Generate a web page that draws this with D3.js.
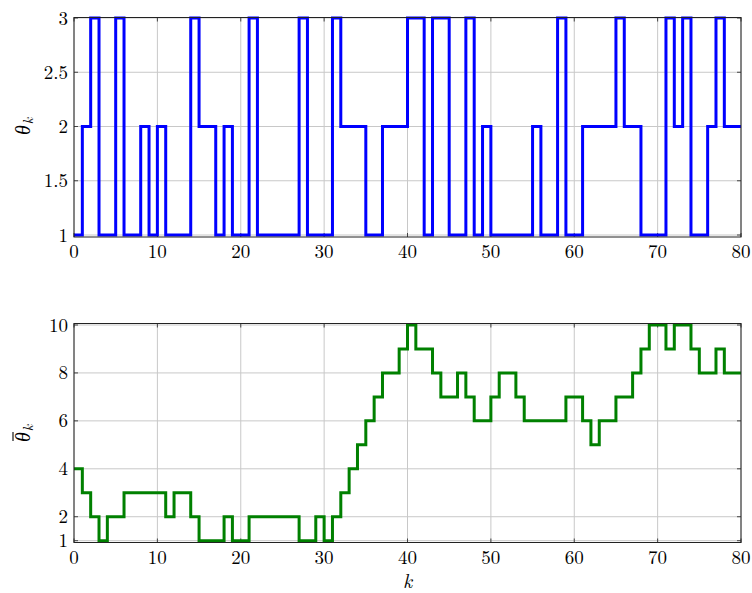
<!DOCTYPE html>
<html>
<head>
<meta charset="utf-8">
<script src="https://cdn.jsdelivr.net/npm/d3@7"></script>
<style>
  body { margin: 0; background: #fff; }
</style>
</head>
<body>
<svg id="chart" width="752" height="593"></svg>
<script>
// theta_k, one value per step k = 0..79
const theta = [
  1, 2, 3, 1, 1, 3, 1, 1, 2, 1,
  2, 1, 1, 1, 3, 2, 2, 1, 2, 1,
  1, 3, 1, 1, 1, 1, 1, 3, 1, 1,
  1, 3, 2, 2, 2, 1, 1, 2, 2, 2,
  3, 3, 1, 3, 3, 1, 1, 3, 1, 2,
  1, 1, 1, 1, 1, 2, 1, 1, 3, 1,
  1, 2, 2, 2, 2, 3, 2, 2, 1, 1,
  1, 3, 2, 3, 1, 1, 2, 3, 2, 2
];

// bar theta_k
const thetaBar = [
  4, 3, 2, 1, 2, 2, 3, 3, 3, 3,
  3, 2, 3, 3, 2, 1, 1, 1, 2, 1,
  1, 2, 2, 2, 2, 2, 2, 1, 1, 2,
  1, 2, 3, 4, 5, 6, 7, 8, 8, 9,
  10, 9, 9, 8, 7, 7, 8, 7, 6, 6,
  7, 8, 8, 7, 6, 6, 6, 6, 6, 7,
  7, 6, 5, 6, 6, 7, 7, 8, 9, 10,
  10, 9, 10, 10, 9, 8, 8, 9, 8, 8
];

const xTicks = [0, 10, 20, 30, 40, 50, 60, 70, 80];
const topYTicks = [1, 1.5, 2, 2.5, 3];
const botYTicks = [1, 2, 4, 6, 8, 10];

const svg = d3.select('#chart');
const left = 74, right = 741;
const font = "Latin Modern Roman, Liberation Serif, serif";

const x = d3.scaleLinear().domain([0, 80]).range([left, right]);

function toSteps(values) {
  const pts = values.map((v, k) => [k, v]);
  pts.push([values.length, values[values.length - 1]]);
  return pts;
}

function drawPanel(opts) {
  const { values, y, yTicks, frameTop, frameBottom, color, bar, labelY } = opts;
  const g = svg.append('g');

  // grid
  g.selectAll('.gx').data(xTicks).enter().append('line')
    .attr('x1', d => x(d)).attr('x2', d => x(d))
    .attr('y1', frameTop).attr('y2', frameBottom)
    .attr('stroke', '#c8c8c8').attr('stroke-width', 1);
  g.selectAll('.gy').data(yTicks).enter().append('line')
    .attr('x1', left).attr('x2', right)
    .attr('y1', d => y(d)).attr('y2', d => y(d))
    .attr('stroke', '#c8c8c8').attr('stroke-width', 1);

  // tick marks on all four sides, pointing inward
  g.selectAll('.tb').data(xTicks).enter().append('line')
    .attr('x1', d => x(d)).attr('x2', d => x(d))
    .attr('y1', frameBottom).attr('y2', frameBottom - 4)
    .attr('stroke', '#444');
  g.selectAll('.tt').data(xTicks).enter().append('line')
    .attr('x1', d => x(d)).attr('x2', d => x(d))
    .attr('y1', frameTop).attr('y2', frameTop + 4)
    .attr('stroke', '#444');
  g.selectAll('.tl').data(yTicks).enter().append('line')
    .attr('x1', left).attr('x2', left + 4)
    .attr('y1', d => y(d)).attr('y2', d => y(d))
    .attr('stroke', '#444');
  g.selectAll('.tr').data(yTicks).enter().append('line')
    .attr('x1', right).attr('x2', right - 4)
    .attr('y1', d => y(d)).attr('y2', d => y(d))
    .attr('stroke', '#444');

  // step line
  const line = d3.line()
    .x(d => x(d[0]))
    .y(d => y(d[1]))
    .curve(d3.curveStepAfter);
  g.append('path')
    .attr('d', line(toSteps(values)))
    .attr('fill', 'none')
    .attr('stroke', color)
    .attr('stroke-width', 3)
    .attr('stroke-linejoin', 'miter');

  // frame
  g.append('rect')
    .attr('x', left).attr('y', frameTop)
    .attr('width', right - left).attr('height', frameBottom - frameTop)
    .attr('fill', 'none').attr('stroke', '#222').attr('stroke-width', 1);

  // tick labels
  g.selectAll('.xl').data(xTicks).enter().append('text')
    .attr('x', d => x(d)).attr('y', frameBottom + 21)
    .attr('text-anchor', 'middle').attr('font-size', 19)
    .attr('font-family', font)
    .text(d => d);
  g.selectAll('.yl').data(yTicks).enter().append('text')
    .attr('x', left - 6).attr('y', d => y(d) + 6.5)
    .attr('text-anchor', 'end').attr('font-size', 19)
    .attr('font-family', font)
    .text(d => d);

  // y label, rotated
  const lab = g.append('g')
    .attr('transform', `translate(30,${labelY}) rotate(-90)`);
  lab.append('text')
    .attr('x', -3).attr('y', 0)
    .attr('font-size', 20).attr('font-style', 'italic')
    .attr('font-family', font)
    .attr('text-anchor', 'middle')
    .text('θ');
  lab.append('text')
    .attr('x', 6).attr('y', 3)
    .attr('font-size', 14).attr('font-style', 'italic')
    .attr('font-family', font)
    .attr('text-anchor', 'middle')
    .text('k');
  if (bar) {
    lab.append('line')
      .attr('x1', -7).attr('x2', 2)
      .attr('y1', -17).attr('y2', -17)
      .attr('stroke', '#000').attr('stroke-width', 1.1);
  }
  return g;
}

const yTop = d3.scaleLinear().domain([1, 3]).range([235, 18]);
drawPanel({
  values: theta, y: yTop, yTicks: topYTicks,
  frameTop: 17.5, frameBottom: 237,
  color: '#0000ff', bar: false, labelY: 127
});

const yBot = d3.scaleLinear().domain([1, 10]).range([540.7, 325]);
drawPanel({
  values: thetaBar, y: yBot, yTicks: botYTicks,
  frameTop: 323.5, frameBottom: 542.5,
  color: '#008000', bar: true, labelY: 434
});

svg.append('text')
  .attr('x', x(40)).attr('y', 588)
  .attr('text-anchor', 'middle').attr('font-size', 20)
  .attr('font-style', 'italic')
  .attr('font-family', font)
  .text('k');
</script>
</body>
</html>
